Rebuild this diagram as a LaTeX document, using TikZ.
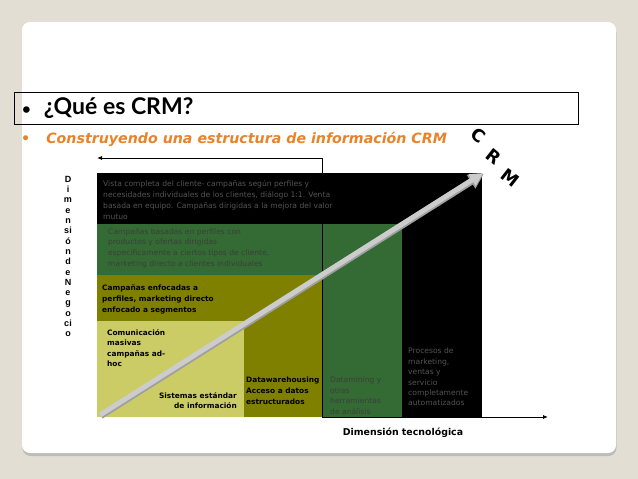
\documentclass[tikz,border=0pt]{standalone}
\usepackage{fontspec}
\setmainfont{DejaVu Sans}
\newfontfamily\headfont{Lato}
\newfontfamily\arialfont{Liberation Sans}
\usetikzlibrary{arrows.meta,positioning,calc,shadows}
\definecolor{slidebeige}{RGB}{227,222,211}
\definecolor{crmorange}{RGB}{232,131,42}
\definecolor{crmgreen}{RGB}{52,106,52}
\definecolor{crmolive}{RGB}{128,128,0}
\definecolor{crmlight}{RGB}{204,204,102}
\definecolor{crmtext}{RGB}{84,84,84}
\definecolor{crmdarktext}{RGB}{58,64,58}
\tikzset{
  bandtext/.style={anchor=north west, inner sep=0pt, align=left, font=\fontsize{7.6}{11}\selectfont},
  boldtext/.style={bandtext, font=\bfseries\fontsize{7.4}{10.6}\selectfont},
  greytext/.style={bandtext, text=crmtext},
  crmletter/.style={font=\bfseries\fontsize{17.5}{17.5}\selectfont, rotate=-38, inner sep=0pt},
  axis/.style={draw=black, line width=0.8pt}
}

\begin{document}
\begin{tikzpicture}[x=1pt, y=-1pt]
    \useasboundingbox (0,0) rectangle (638,479);
    % Slide background
    \fill[slidebeige] (0,0) rectangle (638,479);
    \fill[white, rounded corners=8pt, drop shadow={shadow xshift=0.5pt, shadow yshift=-3pt, fill=gray!70, opacity=0.6}] (22,22) rectangle (616,453);

    % Title
    \draw[black, line width=0.8pt] (14,92) rectangle (578,124);
    \node[anchor=west, inner sep=0pt, font=\headfont\bfseries\fontsize{23}{23}\selectfont] (title) at (22,108) {{\fontsize{15}{15}\selectfont\textbullet}\hspace{13pt}¿Qué es CRM?};
    \node[anchor=west, inner sep=0pt, text=crmorange, font=\bfseries\itshape\fontsize{14.2}{14.2}\selectfont] (subtitle) at (21,139) {\textbullet\hspace{16pt}Construyendo una estructura de información CRM};

    % C R M letters
    \node[crmletter] (letC) at (478,135) {C};
    \node[crmletter] (letR) at (494,157) {R};
    \node[crmletter] (letM) at (510,178) {M};

    % Nested bands
    \fill[black] (97,173) rectangle (482,417);
    \fill[crmgreen] (97,224) rectangle (402,417);
    \fill[crmolive] (97,275) rectangle (322,417);
    \fill[crmlight] (97,321) rectangle (244,417);

    % Axes
    \coordinate (axtop) at (322,158);
    \coordinate (axleft) at (97,158);
    \coordinate (axbot) at (322,417);
    \coordinate (axright) at (548,417);
    \draw[axis, -{Latex[length=5pt,width=4pt]}] (axtop) -- (axleft);
    \draw[axis] (axtop) -- (axbot);
    \draw[axis, -{Latex[length=5pt,width=4pt]}] (axbot) -- (axright);

    % Band texts
    \node[greytext] (vista) at (103,180) {Vista completa del cliente- campañas según perfiles y\\necesidades individuales de los clientes, diálogo 1:1. Venta\\basada en equipo. Campañas dirigidas a la mejora del valor\\mutuo};
    \node[greytext, text=crmdarktext, font=\fontsize{7.6}{10.7}\selectfont] (perfiles) at (108,228) {Campañas basadas en perfiles con\\productos y ofertas dirigidas\\especificamente a ciertos tipos de cliente,\\marketing directo a clientes individuales};
    \node[boldtext] (enfocadas) at (102,285) {Campañas enfocadas a\\perfiles, marketing directo\\enfocado a segmentos};
    \node[boldtext] (masivas) at (107,329) {Comunicación\\masivas\\campañas ad-\\hoc};
    \node[boldtext, anchor=north east, align=right] (sistemas) at (237,392) {Sistemas estándar\\de información};
    \node[boldtext] (datawh) at (246,377) {Datawarehousing\\Acceso a datos\\estructurados};
    \node[greytext, text=crmdarktext, font=\fontsize{7.6}{10.5}\selectfont] (datamining) at (330,377) {Datamining y\\otras\\herramientas\\de análisis};
    \node[greytext, font=\fontsize{7.6}{10.4}\selectfont] (procesos) at (408,348) {Procesos de\\marketing,\\ventas y\\servicio\\completamente\\automatizados};

    % CRM arrow
    \coordinate (crmstart) at (100,415);
    \coordinate (crmtip) at (483,173);
    \draw[line width=6.5pt, gray!75, -{Triangle[length=15pt,width=15pt]}] ($(crmstart)+(0.8,0.8)$) -- ($(crmtip)+(0.8,0.8)$);
    \draw[line width=5pt, gray!40, -{Triangle[length=13pt,width=13pt]}] (crmstart) -- (crmtip);

    % Axis labels
    \node[anchor=north, inner sep=0pt, align=center, font=\arialfont\bfseries\fontsize{9}{10.3}\selectfont] (negocio) at (68,176) {D\\i\\m\\e\\n\\si\\ó\\n\\d\\e\\N\\e\\g\\o\\ci\\o};
    \node[inner sep=0pt, font=\bfseries\fontsize{9.4}{10}\selectfont] (tecno) at (403,433) {Dimensión tecnológica};
\end{tikzpicture}
\end{document}
